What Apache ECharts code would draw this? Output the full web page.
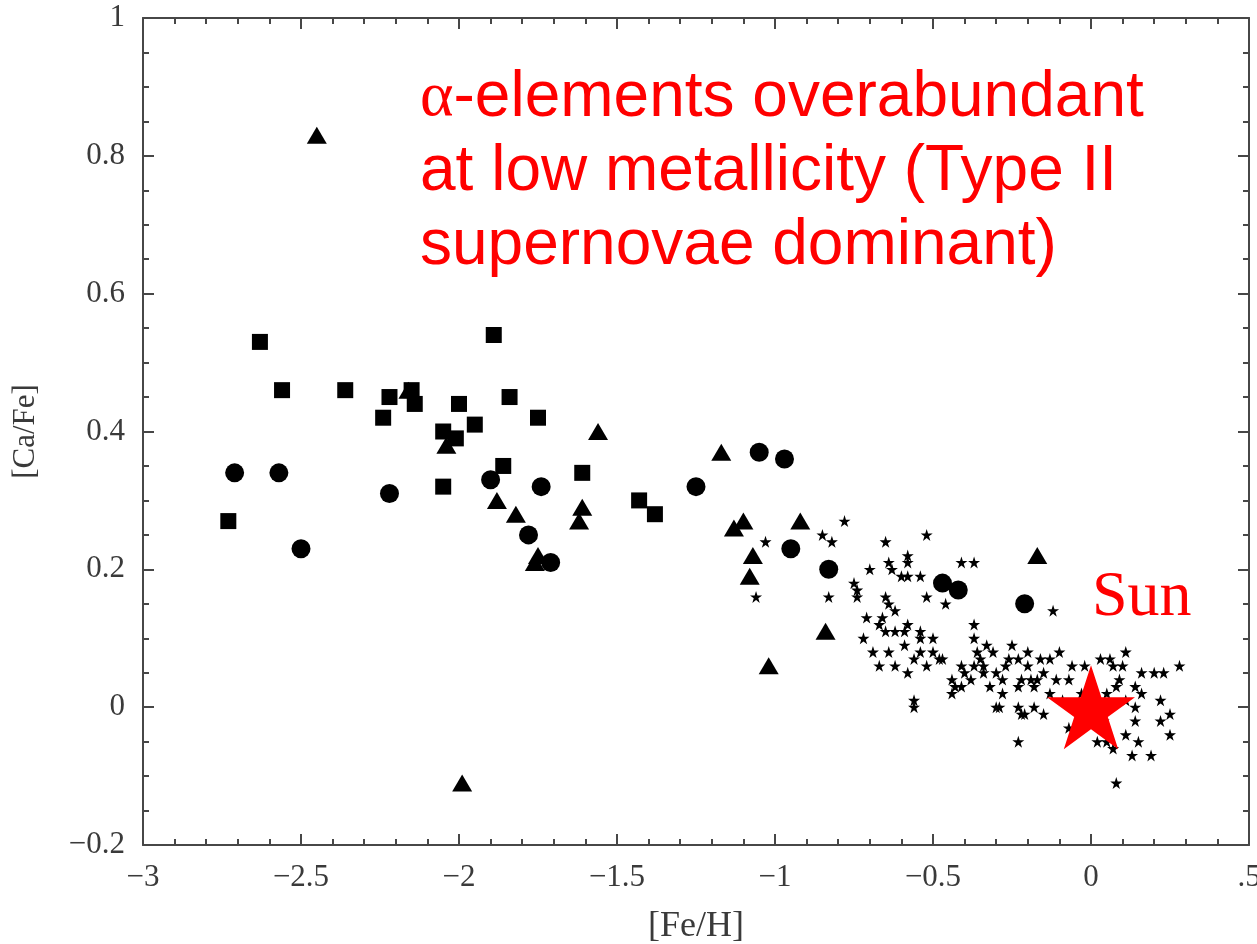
<!DOCTYPE html>
<html><head><meta charset="utf-8">
<script src="https://cdn.jsdelivr.net/npm/echarts@6/dist/echarts.min.js"></script>
<style>html,body{margin:0;padding:0;background:#fff}#c{width:1257px;height:944px}</style>
</head><body><div id="c"></div><script>
// ---- data ([Fe/H], [Ca/Fe]) ----
const squareData = [[-2.73,0.27],[-2.63,0.53],[-2.56,0.46],[-2.36,0.46],[-2.24,0.42],[-2.22,0.45],[-2.15,0.46],[-2.14,0.44],[-2.05,0.40],[-2.01,0.39],[-2.05,0.32],[-2.00,0.44],[-1.95,0.41],[-1.89,0.54],[-1.84,0.45],[-1.86,0.35],[-1.75,0.42],[-1.61,0.34],[-1.43,0.30],[-1.38,0.28]];
const circleData = [[-2.71,0.34],[-2.57,0.34],[-2.50,0.23],[-2.22,0.31],[-1.90,0.33],[-1.74,0.32],[-1.78,0.25],[-1.71,0.21],[-1.25,0.32],[-1.05,0.37],[-0.97,0.36],[-0.95,0.23],[-0.83,0.20],[-0.47,0.18],[-0.42,0.17],[-0.21,0.15]];
const triangleData = [[-2.45,0.83],[-2.16,0.46],[-2.04,0.38],[-1.88,0.30],[-1.82,0.28],[-1.76,0.21],[-1.75,0.22],[-1.56,0.40],[-1.61,0.29],[-1.62,0.27],[-1.17,0.37],[-1.10,0.27],[-1.13,0.26],[-0.92,0.27],[-1.07,0.22],[-1.08,0.19],[-0.84,0.11],[-1.02,0.06],[-0.17,0.22],[-1.99,-0.11]];
const starData = [[-0.78,0.27],[-1.03,0.24],[-0.85,0.25],[-0.82,0.24],[-0.65,0.24],[-0.52,0.25],[-0.58,0.22],[-0.58,0.21],[-0.64,0.21],[-0.63,0.20],[-0.70,0.20],[-0.60,0.19],[-0.58,0.19],[-0.54,0.19],[-1.06,0.16],[-0.83,0.16],[-0.75,0.18],[-0.74,0.17],[-0.74,0.16],[-0.65,0.16],[-0.64,0.15],[-0.62,0.14],[-0.52,0.16],[-0.71,0.13],[-0.66,0.13],[-0.67,0.12],[-0.58,0.12],[-0.65,0.11],[-0.62,0.11],[-0.59,0.11],[-0.72,0.10],[-0.54,0.11],[-0.50,0.10],[-0.54,0.10],[-0.59,0.09],[-0.69,0.08],[-0.64,0.08],[-0.54,0.08],[-0.50,0.08],[-0.48,0.07],[-0.56,0.07],[-0.67,0.06],[-0.62,0.06],[-0.52,0.06],[-0.58,0.05],[-0.56,0.01],[-0.56,0.00],
[-0.30,0.05],[-0.43,0.03],[-0.41,0.03],[-0.19,0.04],[-0.21,-0.01],[-0.18,0.00],[-0.36,0.08],[-0.34,0.06],
[-0.41,0.21],[-0.37,0.21],[-0.46,0.15],[-0.12,0.14],[-0.37,0.12],[-0.37,0.10],[-0.25,0.09],[-0.33,0.09],[-0.20,0.08],[-0.10,0.08],[-0.47,0.07],[-0.35,0.07],[-0.31,0.08],[-0.26,0.07],[-0.23,0.07],[-0.16,0.07],[-0.13,0.07],[0.03,0.07],[0.11,0.08],[-0.41,0.06],[-0.37,0.06],[-0.44,0.04],[-0.38,0.04],[-0.28,0.04],[-0.22,0.04],[-0.17,0.04],[-0.11,0.04],[-0.07,0.04],[-0.02,0.06],[0.07,0.06],[0.10,0.06],[0.16,0.05],[0.20,0.05],[0.23,0.05],[0.28,0.06],[-0.44,0.02],[-0.32,0.03],[-0.28,0.02],[-0.23,0.03],[-0.18,0.03],[-0.13,0.02],[-0.09,0.01],[-0.03,0.02],[0.08,0.03],[0.14,0.03],[0.16,0.02],[0.11,0.01],[-0.30,0.00],[-0.22,-0.01],[-0.15,-0.01],[-0.29,0.00],[-0.23,0.00],[0.14,0.00],[0.14,-0.02],[0.22,0.01],[0.22,-0.02],[0.25,-0.01],[0.25,-0.04],[-0.07,-0.03],[-0.23,-0.05],[0.02,-0.05],[0.05,-0.05],[0.07,-0.06],[0.11,-0.04],[0.15,-0.05],[0.13,-0.07],[0.19,-0.07],[0.08,-0.11],
[0.00,0.03],[0.05,0.02],[-0.02,-0.01],[0.04,-0.02],[0.09,0.04],[-0.40,0.05],[-0.34,0.05],[-0.27,0.06],[-0.20,0.06],[-0.15,0.05],[-0.06,0.06],[0.06,0.07]];
const sunData = [[0,0]];
const xTicks = {min:-3, max:0.5, step:0.5};
const yTicks = {min:-0.2, max:1, step:0.2};
const noteLines = ['{a|α}-elements overabundant','at low metallicity (Type II','supernovae dominant)'];
const sunLabel = 'Sun';

const STAR = 'path://M50 0 L61.23 34.55 L97.55 34.55 L68.16 55.9 L79.39 90.45 L50 69.1 L20.61 90.45 L31.84 55.9 L2.45 34.55 L38.77 34.55 Z';
const AX = '#474747';
const minus = s => String(s).replace('-', '\u2212');
function baseAxis(extra){
  return Object.assign({
    type:'value', scale:false,
    axisLine:{show:true, onZero:false, lineStyle:{color:AX, width:2}},
    axisTick:{show:true, inside:true, length:11, lineStyle:{color:AX, width:2}},
    minorTick:{show:true, length:6, lineStyle:{color:AX, width:2}},
    splitLine:{show:false}, minorSplitLine:{show:false}
  }, extra);
}
const xA = {min:xTicks.min, max:xTicks.max, interval:xTicks.step};
const yA = {min:yTicks.min, max:yTicks.max, interval:yTicks.step};
const chart = echarts.init(document.getElementById('c'), null, {renderer:'canvas'});
chart.setOption({
  animation:false,
  backgroundColor:'#fff',
  grid:{left:143, right:8, top:18, bottom:99, containLabel:false, outerBoundsMode:'none'},
  xAxis:[
    baseAxis(Object.assign({position:'bottom', minorTick:{show:true,splitNumber:5,length:6,lineStyle:{color:AX,width:2}},
      axisLabel:{show:true, margin:17, color:'#3a3a3a', fontFamily:'Liberation Serif', fontSize:31,
        formatter:v=> Math.abs(v-0.5)<1e-9 ? '.5' : minus(v)},
      name:'[Fe/H]', nameLocation:'middle', nameGap:64,
      nameTextStyle:{color:'#3a3a3a', fontFamily:'Liberation Serif', fontSize:36}}, xA)),
    baseAxis(Object.assign({position:'top', minorTick:{show:true,splitNumber:5,length:6,lineStyle:{color:AX,width:2}},
      axisLabel:{show:false}}, xA))
  ],
  yAxis:[
    baseAxis(Object.assign({position:'left', minorTick:{show:true,splitNumber:4,length:6,lineStyle:{color:AX,width:2}},
      axisLabel:{show:true, margin:18, color:'#3a3a3a', fontFamily:'Liberation Serif', fontSize:31,
        formatter:v=>minus(Math.round(v*10)/10)},
      name:'[Ca/Fe]', nameLocation:'middle', nameGap:102,
      nameTextStyle:{color:'#3a3a3a', fontFamily:'Liberation Serif', fontSize:31}}, yA)),
    baseAxis(Object.assign({position:'right', minorTick:{show:true,splitNumber:4,length:6,lineStyle:{color:AX,width:2}},
      axisLabel:{show:false}}, yA))
  ],
  series:[
    {type:'scatter', name:'stars', data:starData, symbol:STAR, symbolSize:12, itemStyle:{color:'#000', opacity:1}, silent:true},
    {type:'scatter', name:'squares', data:squareData, symbol:'rect', symbolSize:16, itemStyle:{color:'#000', opacity:1}, silent:true},
    {type:'scatter', name:'circles', data:circleData, symbol:'circle', symbolSize:19, itemStyle:{color:'#000', opacity:1}, silent:true},
    {type:'scatter', name:'triangles', data:triangleData, symbol:'triangle', symbolSize:[20,17], itemStyle:{color:'#000', opacity:1}, silent:true},
    {type:'scatter', name:'Sun', data:sunData, symbol:STAR, symbolSize:[88,84], itemStyle:{color:'#ff0000', opacity:1}, silent:true, z:5}
  ],
  graphic:[
    {type:'text', left:420, top:61, z:10, silent:true,
      style:{text:noteLines.join('\n'), fill:'#ff0000', font:'64px "Liberation Sans", Arial, sans-serif', lineHeight:74,
        rich:{a:{fill:'#ff0000', font:'64px "Liberation Serif", serif', lineHeight:74}}}},
    {type:'text', left:1092, top:566, z:10, silent:true,
      style:{text:sunLabel, fill:'#ff0000', font:'64px "Liberation Serif", serif'}}
  ]
});
</script></body></html>
